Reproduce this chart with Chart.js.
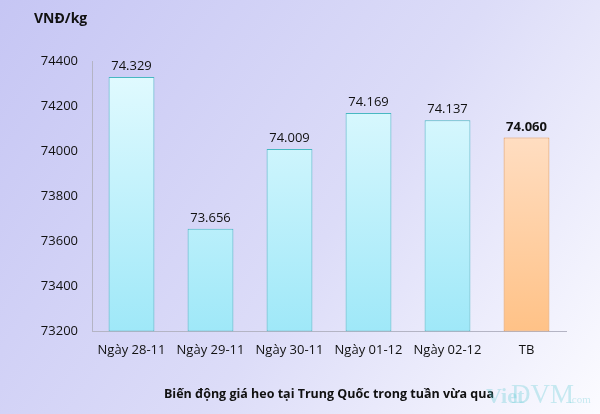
<!DOCTYPE html>
<html>
<head>
<meta charset="utf-8">
<script src="https://cdn.jsdelivr.net/npm/chart.js@4.4.0/dist/chart.umd.min.js"></script>
<style>
  html, body { margin: 0; padding: 0; }
  #wrap { width: 600px; height: 414px; position: relative; }
</style>
</head>
<body>
<div id="wrap"><canvas id="priceChart"></canvas></div>
<script>
// Chart data
const categories = ['Ngày 28-11', 'Ngày 29-11', 'Ngày 30-11', 'Ngày 01-12', 'Ngày 02-12', 'TB'];
const prices = [74329, 73656, 74009, 74169, 74137, 74060];
const yTicks = [73200, 73400, 73600, 73800, 74000, 74200, 74400];

const FONT = "'Open Sans', 'Liberation Sans', sans-serif";

function fmt(v) {
    return v.toLocaleString('de-DE');
}

function barFill(context, isAvg) {
    const chart = context.chart;
    const area = chart.chartArea;
    if (!area) return isAvg ? '#ffcf9a' : '#b8f0fb';
    const g = chart.ctx.createLinearGradient(0, area.top, 0, area.bottom);
    if (isAvg) {
        g.addColorStop(0, '#ffe8d8');
        g.addColorStop(1, '#ffc287');
    } else {
        g.addColorStop(0, '#e4fbff');
        g.addColorStop(1, '#9fe8f8');
    }
    return g;
}

// background gradient + texts
const decorPlugin = {
    id: 'decor',
    beforeDraw(chart) {
        const ctx = chart.ctx;
        const w = chart.width, h = chart.height;
        ctx.save();
        const g = ctx.createLinearGradient(0, 0, w, h);
        g.addColorStop(0, '#c6c6f4');
        g.addColorStop(0.55, '#dcdcf8');
        g.addColorStop(1, '#fbfbff');
        ctx.fillStyle = g;
        ctx.fillRect(0, 0, w, h);
        ctx.restore();
    },
    afterDraw(chart) {
        const ctx = chart.ctx;
        ctx.save();
        ctx.fillStyle = '#111';
        ctx.font = 'bold 14px ' + FONT;
        ctx.textBaseline = 'middle';
        ctx.textAlign = 'left';
        ctx.fillText('VNĐ/kg', 34, 19);

        // watermark
        ctx.globalAlpha = 0.32;
        ctx.fillStyle = '#5ccad4';
        ctx.textBaseline = 'alphabetic';
        ctx.font = 'bold 22px "Liberation Serif", serif';
        ctx.fillText('Viet', 486, 403);
        ctx.font = '27px "Liberation Serif", serif';
        ctx.fillText('DVM', 511, 403);
        ctx.font = '11px "Liberation Serif", serif';
        ctx.fillText('.com', 569, 403);
        ctx.restore();
    }
};

// value labels on top of bars
const valueLabels = {
    id: 'valueLabels',
    afterDatasetsDraw(chart) {
        const ctx = chart.ctx;
        const meta = chart.getDatasetMeta(0);
        ctx.save();
        ctx.textAlign = 'center';
        ctx.textBaseline = 'bottom';
        ctx.fillStyle = '#111';
        meta.data.forEach((bar, i) => {
            const isAvg = i === prices.length - 1;
            ctx.font = (isAvg ? 'bold ' : '') + '13px ' + FONT;
            ctx.fillText(fmt(prices[i]), bar.x, bar.y - 4);
        });
        ctx.restore();
    }
};

new Chart(document.getElementById('priceChart'), {
    type: 'bar',
    data: {
        labels: categories,
        datasets: [{
            data: prices,
            backgroundColor: ctx => barFill(ctx, ctx.dataIndex === prices.length - 1),
            borderColor: ctx => ctx.dataIndex === prices.length - 1 ? '#e9984c' : '#48b8c2',
            borderWidth: 1,
            borderSkipped: false,
            categoryPercentage: 1,
            barPercentage: 0.58,
            base: 73200
        }]
    },
    options: {
        responsive: true,
        maintainAspectRatio: false,
        animation: false,
        layout: {
            padding: { top: 61, right: 34, left: 0, bottom: 0 }
        },
        plugins: {
            legend: { display: false },
            tooltip: { enabled: false },
            title: { display: false }
        },
        scales: {
            x: {
                grid: { display: false, drawTicks: false },
                border: { color: '#b4b4c4', width: 1 },
                ticks: {
                    color: '#111',
                    font: { family: FONT, size: 13 },
                    padding: 11,
                    maxRotation: 0,
                    autoSkip: false
                },
                title: {
                    display: true,
                    text: 'Biến động giá heo tại Trung Quốc trong tuần vừa qua',
                    color: '#111',
                    font: { family: FONT, size: 12.5, weight: 'bold' },
                    padding: { top: 18, bottom: 12 }
                }
            },
            y: {
                min: 73200,
                max: 74400,
                afterBuildTicks: scale => {
                    scale.ticks = yTicks.map(v => ({ value: v }));
                },
                afterFit: scale => {
                    scale.width = 92;
                },
                grid: { display: false, drawTicks: false },
                border: { color: '#b4b4c4', width: 1 },
                ticks: {
                    color: '#111',
                    font: { family: FONT, size: 13 },
                    padding: 14,
                    callback: v => String(v)
                }
            }
        }
    },
    plugins: [decorPlugin, valueLabels]
});
</script>
</body>
</html>
